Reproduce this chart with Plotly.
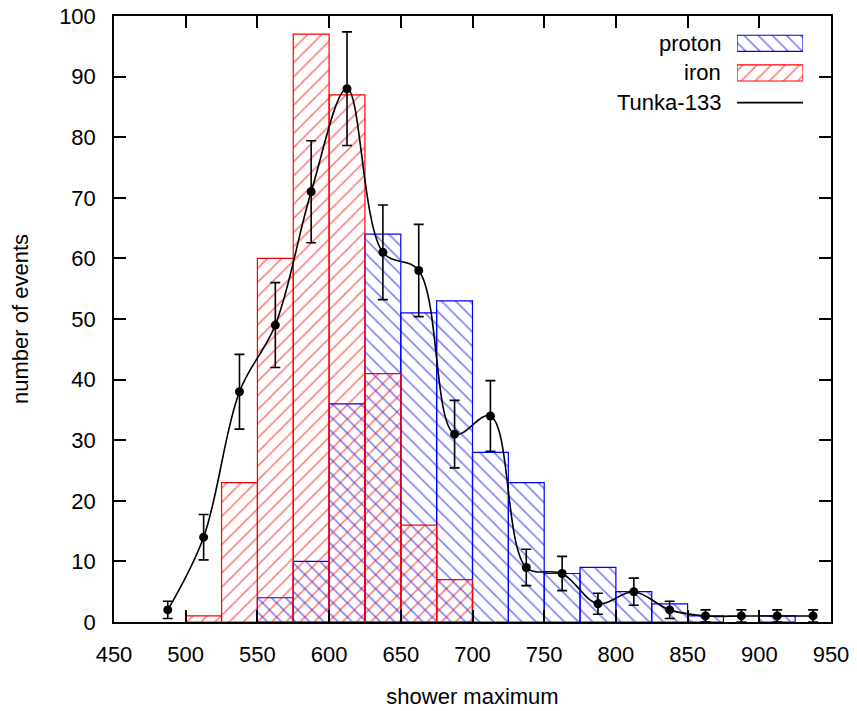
import plotly.graph_objects as go

# bin centres (bin width 25)
bin_centers = [487.5, 512.5, 537.5, 562.5, 587.5, 612.5, 637.5, 662.5, 687.5, 712.5,
               737.5, 762.5, 787.5, 812.5, 837.5, 862.5, 887.5, 912.5, 937.5]
proton = [None, None, None, 4, 10, 36, 64, 51, 53, 28, 23, 8, 9, 5, 3, 1, None, 1, None]
iron = [None, 1, 23, 60, 97, 87, 41, 16, 7, None, None, None, None, None, None, None, None, None, None]
tunka = [2, 14, 38, 49, 71, 88, 61, 58, 31, 34, 9, 8, 3, 5, 2, 1, 1, 1, 1]
tunka_err = [v ** 0.5 for v in tunka]
bin_width = 25

x_ticks = [450, 500, 550, 600, 650, 700, 750, 800, 850, 900, 950]
y_ticks = [0, 10, 20, 30, 40, 50, 60, 70, 80, 90, 100]

legend_names = ["proton", "iron", "Tunka-133"]

FONT = "Liberation Sans, Arial, Helvetica, sans-serif"
FS = 22
TR = "rgba(0,0,0,0)"


def pattern(shape, col):
    return dict(shape=shape, fgcolor=col, bgcolor=TR, size=10, solidity=0.16, fillmode="overlay")


fig = go.Figure()

fig.add_trace(go.Bar(
    x=bin_centers, y=proton, width=bin_width, name="proton",
    marker=dict(color=TR, line=dict(color="blue", width=1.2), pattern=pattern("\\", "blue")),
    showlegend=False))
fig.add_trace(go.Bar(
    x=bin_centers, y=iron, width=bin_width, name="iron",
    marker=dict(color=TR, line=dict(color="red", width=1.2), pattern=pattern("/", "red")),
    showlegend=False))
fig.add_trace(go.Scatter(
    x=bin_centers, y=tunka, mode="lines+markers", name="Tunka-133",
    line=dict(color="black", width=1.6, shape="spline", smoothing=1.0),
    marker=dict(color="black", size=9),
    error_y=dict(type="data", array=tunka_err, visible=True, color="black", thickness=1.6, width=5),
    showlegend=False))

# legend samples (drawn in a small helper axis)
fig.add_trace(go.Bar(
    x=[1], y=[2], base=0, orientation="h", width=0.54, xaxis="x2", yaxis="y2",
    marker=dict(color=TR, line=dict(color="blue", width=1.2), pattern=pattern("\\", "blue")),
    showlegend=False, hoverinfo="skip"))
fig.add_trace(go.Bar(
    x=[1], y=[1], base=0, orientation="h", width=0.54, xaxis="x2", yaxis="y2",
    marker=dict(color=TR, line=dict(color="red", width=1.2), pattern=pattern("/", "red")),
    showlegend=False, hoverinfo="skip"))
fig.add_trace(go.Scatter(
    x=[0, 1], y=[0, 0], mode="lines", xaxis="x2", yaxis="y2",
    line=dict(color="black", width=1.6), showlegend=False, hoverinfo="skip"))

row_y = [0.955, 0.906, 0.857]
annotations = [
    dict(text=n, xref="paper", yref="paper", x=0.849, y=yy, xanchor="right", yanchor="middle",
         showarrow=False, font=dict(family=FONT, size=FS, color="black"))
    for n, yy in zip(legend_names, row_y)
]

axis_common = dict(
    showline=True, linecolor="black", linewidth=1.5, mirror="allticks",
    ticks="inside", ticklen=12, tickwidth=1.5, tickcolor="black",
    showgrid=False, zeroline=False, automargin=False,
    tickfont=dict(family=FONT, size=FS, color="black"),
)

fig.update_layout(
    width=857, height=711,
    margin=dict(l=114, r=26, t=16, b=89),
    paper_bgcolor="white", plot_bgcolor="white",
    barmode="overlay",
    showlegend=False,
    font=dict(family=FONT, size=FS, color="black"),
    xaxis=dict(range=[450, 950], tickvals=x_ticks, ticklabelstandoff=12,
               title=dict(text="shower maximum", standoff=22, font=dict(family=FONT, size=FS)),
               **axis_common),
    yaxis=dict(range=[0, 100], tickvals=y_ticks, ticklabelstandoff=12,
               title=dict(text="number of events", standoff=24, font=dict(family=FONT, size=FS)),
               **axis_common),
    xaxis2=dict(domain=[0.869, 0.961], range=[0, 1], visible=False, anchor="y2", fixedrange=True),
    yaxis2=dict(domain=[0.8325, 0.9795], range=[-0.5, 2.5], visible=False, anchor="x2", fixedrange=True),
    annotations=annotations,
)

fig.write_html("out.html")
